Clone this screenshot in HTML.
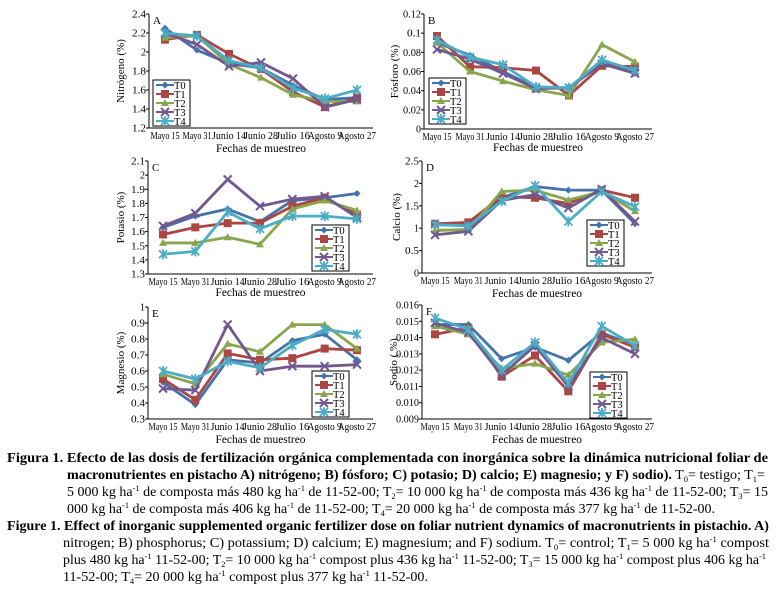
<!DOCTYPE html>
<html><head><meta charset="utf-8"><style>
body{margin:0;background:#fff;}
svg, svg text{font-family:"Liberation Serif","Times New Roman",serif;}
</style></head><body>
<svg id="fig" width="783" height="594" viewBox="0 0 783 594" xmlns="http://www.w3.org/2000/svg" font-family="Liberation Serif, serif">
<g id="charts"></g>
<g id="caption" font-size="13.3" fill="#000">
<text x="7" y="462" font-weight="bold" textLength="761" lengthAdjust="spacingAndGlyphs">Figura 1. Efecto de las dosis de fertilización orgánica complementada con inorgánica sobre la dinámica nutricional foliar de</text>
<text x="67" y="479" textLength="698" lengthAdjust="spacingAndGlyphs"><tspan font-weight="bold">macronutrientes en pistacho A) nitrógeno; B) fósforo; C) potasio; D) calcio; E) magnesio; y F) sodio).</tspan> T<tspan font-size="8" dy="3">0</tspan><tspan dy="-3">= testigo; T</tspan><tspan font-size="8" dy="3">1</tspan><tspan dy="-3">=</tspan></text>
<text x="67" y="496" textLength="701" lengthAdjust="spacingAndGlyphs">5 000 kg ha<tspan font-size="8" dy="-5">-1</tspan><tspan dy="5"> de composta más 480 kg ha</tspan><tspan font-size="8" dy="-5">-1</tspan><tspan dy="5"> de 11-52-00; T</tspan><tspan font-size="8" dy="3">2</tspan><tspan dy="-3">= 10 000 kg ha</tspan><tspan font-size="8" dy="-5">-1</tspan><tspan dy="5"> de composta más 436 kg ha</tspan><tspan font-size="8" dy="-5">-1</tspan><tspan dy="5"> de 11-52-00; T</tspan><tspan font-size="8" dy="3">3</tspan><tspan dy="-3">= 15</tspan></text>
<text x="67" y="513" textLength="648" lengthAdjust="spacingAndGlyphs">000 kg ha<tspan font-size="8" dy="-5">-1</tspan><tspan dy="5"> de composta más 406 kg ha</tspan><tspan font-size="8" dy="-5">-1</tspan><tspan dy="5"> de 11-52-00; T</tspan><tspan font-size="8" dy="3">4</tspan><tspan dy="-3">= 20 000 kg ha</tspan><tspan font-size="8" dy="-5">-1</tspan><tspan dy="5"> de composta más 377 kg ha</tspan><tspan font-size="8" dy="-5">-1</tspan><tspan dy="5"> de 11-52-00.</tspan></text>
<text x="7" y="530" font-weight="bold" textLength="762" lengthAdjust="spacingAndGlyphs">Figure 1. Effect of inorganic supplemented organic fertilizer dose on foliar nutrient dynamics of macronutrients in pistachio. A)</text>
<text x="63" y="547" textLength="706" lengthAdjust="spacingAndGlyphs">nitrogen; B) phosphorus; C) potassium; D) calcium; E) magnesium; and F) sodium. T<tspan font-size="8" dy="3">0</tspan><tspan dy="-3">= control; T</tspan><tspan font-size="8" dy="3">1</tspan><tspan dy="-3">= 5 000 kg ha</tspan><tspan font-size="8" dy="-5">-1</tspan><tspan dy="5"> compost</tspan></text>
<text x="63" y="564" textLength="703" lengthAdjust="spacingAndGlyphs">plus 480 kg ha<tspan font-size="8" dy="-5">-1</tspan><tspan dy="5"> 11-52-00; T</tspan><tspan font-size="8" dy="3">2</tspan><tspan dy="-3">= 10 000 kg ha</tspan><tspan font-size="8" dy="-5">-1</tspan><tspan dy="5"> compost plus 436 kg ha</tspan><tspan font-size="8" dy="-5">-1</tspan><tspan dy="5"> 11-52-00; T</tspan><tspan font-size="8" dy="3">3</tspan><tspan dy="-3">= 15 000 kg ha</tspan><tspan font-size="8" dy="-5">-1</tspan><tspan dy="5"> compost plus 406 kg ha</tspan><tspan font-size="8" dy="-5">-1</tspan></text>
<text x="63" y="581" textLength="365" lengthAdjust="spacingAndGlyphs">11-52-00; T<tspan font-size="8" dy="3">4</tspan><tspan dy="-3">= 20 000 kg ha</tspan><tspan font-size="8" dy="-5">-1</tspan><tspan dy="5"> compost plus 377 kg ha</tspan><tspan font-size="8" dy="-5">-1</tspan><tspan dy="5"> 11-52-00.</tspan></text>
</g>
</svg>
<script>
const categories=["Mayo 15","Mayo 31","Junio 14","Junio 28","Julio 16","Agosto 9","Agosto 27"];
const seriesNames=["T0","T1","T2","T3","T4"];
const nA=[[2.25,2.02,1.88,1.83,1.65,1.50,1.52],[2.13,2.18,1.98,1.82,1.58,1.42,1.52],[2.15,2.17,1.87,1.73,1.55,1.48,1.48],[2.20,2.08,1.85,1.89,1.72,1.42,1.50],[2.20,2.17,1.91,1.83,1.62,1.51,1.60]];
const pB=[[0.090,0.077,0.060,0.043,0.043,0.070,0.058],[0.097,0.065,0.064,0.061,0.035,0.066,0.065],[0.090,0.060,0.050,0.041,0.035,0.088,0.070],[0.083,0.073,0.058,0.042,0.043,0.068,0.058],[0.093,0.075,0.067,0.044,0.043,0.072,0.061]];
const kC=[[1.63,1.71,1.76,1.67,1.82,1.84,1.87],[1.58,1.63,1.66,1.66,1.78,1.84,1.72],[1.52,1.52,1.56,1.51,1.76,1.82,1.75],[1.64,1.73,1.97,1.78,1.83,1.85,1.70],[1.44,1.46,1.74,1.62,1.71,1.71,1.69]];
const caD=[[1.08,1.07,1.68,1.93,1.85,1.85,1.10],[1.10,1.13,1.70,1.68,1.55,1.85,1.68],[0.95,0.97,1.82,1.85,1.63,1.82,1.38],[0.85,0.93,1.62,1.75,1.45,1.87,1.15],[1.08,1.05,1.60,1.95,1.15,1.82,1.48]];
const mgE=[[0.53,0.39,0.67,0.65,0.79,0.83,0.67],[0.55,0.42,0.71,0.67,0.68,0.74,0.73],[0.58,0.52,0.77,0.72,0.89,0.89,0.74],[0.49,0.48,0.89,0.60,0.63,0.63,0.64],[0.60,0.55,0.66,0.62,0.76,0.86,0.83]];
const naF=[[0.0148,0.0148,0.0127,0.0134,0.0126,0.0143,0.0135],[0.0142,0.0146,0.0116,0.0129,0.0107,0.0142,0.0134],[0.0147,0.0142,0.0121,0.0124,0.0117,0.0137,0.0139],[0.0149,0.0143,0.0117,0.0135,0.0110,0.0140,0.0130],[0.0152,0.0145,0.0120,0.0137,0.0112,0.0147,0.0135]];
const ticksA=["1.2","1.4","1.6","1.8","2","2.2","2.4"];
const ticksB=["0","0.02","0.04","0.06","0.08","0.1","0.12"];
const ticksC=["1.3","1.4","1.5","1.6","1.7","1.8","1.9","2","2.1"];
const ticksD=["0","0.5","1","1.5","2","2.5"];
const ticksE=["0.3","0.4","0.5","0.6","0.7","0.8","0.9","1"];
const ticksF=["0.009","0.010","0.011","0.012","0.013","0.014","0.015","0.016"];

const colors=["#4572A7","#AA4643","#89A54E","#71588F","#4BACC6"];
const NS="http://www.w3.org/2000/svg";
function mk(tag,attrs,parent){const e=document.createElementNS(NS,tag);for(const k in attrs)e.setAttribute(k,attrs[k]);parent.appendChild(e);return e;}

const panels=[
 {id:"a",letter:"A",data:nA,ticks:ticksA,title:"Nitrógeno (%)",ax:149,x0:165,x1:357,xe:373,yt:14,yb:128,leg:[153,80],tx:124,fy:148},
 {id:"b",letter:"B",data:pB,ticks:ticksB,title:"Fósforo (%)",ax:424,x0:437,x1:635,xe:652,yt:14,yb:129,leg:[429,78],tx:398,fy:147},
 {id:"c",letter:"C",data:kC,ticks:ticksC,title:"Potasio (%)",ax:148,x0:163,x1:357,xe:373,yt:161,yb:274,leg:[312,225],tx:124,fy:292},
 {id:"d",letter:"D",data:caD,ticks:ticksD,title:"Calcio (%)",ax:422,x0:435,x1:635,xe:652,yt:161,yb:273,leg:[587,220],tx:400,fy:293},
 {id:"e",letter:"E",data:mgE,ticks:ticksE,title:"Magnesio (%)",ax:148,x0:163,x1:357,xe:373,yt:307,yb:419,leg:[312,371],tx:124,fy:439},
 {id:"f",letter:"F",data:naF,ticks:ticksF,title:"Sodio ( %)",ax:422,x0:435,x1:635,xe:652,yt:305,yb:419,leg:[590,372],tx:397,fy:439}
];

function marker(g,type,x,y,c){
 const s=3.5;
 if(type===0)mk("polygon",{points:`${x},${y-s} ${x+s},${y} ${x},${y+s} ${x-s},${y}`,fill:c},g);
 else if(type===1)mk("rect",{x:x-4,y:y-4,width:8,height:8,fill:c},g);
 else if(type===2)mk("polygon",{points:`${x},${y-4} ${x+4},${y+3} ${x-4},${y+3}`,fill:c},g);
 else if(type===3)mk("path",{d:`M${x-4} ${y-4}L${x+4} ${y+4}M${x+4} ${y-4}L${x-4} ${y+4}`,stroke:c,"stroke-width":2},g);
 else mk("path",{d:`M${x-4} ${y-4}L${x+4} ${y+4}M${x+4} ${y-4}L${x-4} ${y+4}M${x} ${y-5}L${x} ${y+5}`,stroke:c,"stroke-width":1.8},g);
}

const root=document.getElementById("charts");
panels.forEach(p=>{
 const g=mk("g",{},root);
 
 
 const vmin=parseFloat(p.ticks[0]),vmax=parseFloat(p.ticks[p.ticks.length-1]);
 const yS=v=>p.yb-(v-vmin)/(vmax-vmin)*(p.yb-p.yt);
 const xS=i=>p.x0+i*(p.x1-p.x0)/(categories.length-1);
 const ya=mk("line",{x1:p.ax,y1:p.yt,x2:p.ax,y2:p.yb,stroke:"#000","stroke-width":1},g);
 
 
 const xa=mk("line",{x1:p.ax,y1:p.yb,x2:p.xe,y2:p.yb,stroke:"#000","stroke-width":1},g);
 
 
 p.ticks.forEach(t=>{
  const y=yS(parseFloat(t));
  mk("line",{x1:p.ax-3,y1:y,x2:p.ax,y2:y,stroke:"#000"},g);
  const tl=mk("text",{x:p.ax-3,y:y+3.5,"font-size":10.5,"text-anchor":"end",textLength:Math.round(t.length*4.6),lengthAdjust:"spacingAndGlyphs"},g);
  
  
  tl.textContent=t;
 });
 categories.forEach((c,i)=>{
  const tl=mk("text",{x:xS(i),y:p.yb+11,"font-size":10.5,"text-anchor":"middle",textLength:Math.round(c.length*4.2),lengthAdjust:"spacingAndGlyphs"},g);
  
  
  tl.textContent=c;
 });
 const xt=mk("text",{x:(p.ax+p.xe)/2,y:p.fy+4,"font-size":11.5,"text-anchor":"middle",textLength:90,lengthAdjust:"spacingAndGlyphs"},g);
 
 
 xt.textContent="Fechas de muestreo";
 const cy=(p.yt+p.yb)/2;
 const yt=mk("text",{x:p.tx,y:cy,"font-size":11,"text-anchor":"middle",transform:`rotate(-90 ${p.tx} ${cy})`},g);
 
 
 yt.textContent=p.title;
 const pl=mk("text",{x:p.ax+4,y:p.yt+10,"font-size":11},g);
 
 
 pl.textContent=p.letter;
 p.data.forEach((s,si)=>{
  const sg=mk("g",{},g);
  
  
  mk("polyline",{points:s.map((v,i)=>xS(i)+","+yS(v)).join(" "),fill:"none",stroke:colors[si],"stroke-width":2.8,"stroke-linejoin":"round"},sg);
  s.forEach((v,i)=>marker(sg,si,xS(i),yS(v),colors[si]));
 });
 const lg=mk("g",{},g);
 
 
 const [lx,ly]=p.leg;
 mk("rect",{x:lx,y:ly,width:37,height:46,fill:"#fff",stroke:"#000","stroke-width":1},lg);
 seriesNames.forEach((n,si)=>{
  const ey=ly+5+si*9;
  const le=mk("g",{},lg);
  
  
  mk("line",{x1:lx+3,y1:ey,x2:lx+21,y2:ey,stroke:colors[si],"stroke-width":2},le);
  marker(le,si,lx+12,ey,colors[si]);
  const t=mk("text",{x:lx+21,y:ey+4,"font-size":10.5},le);
  t.textContent=n;
 });
});
</script>
</body></html>
